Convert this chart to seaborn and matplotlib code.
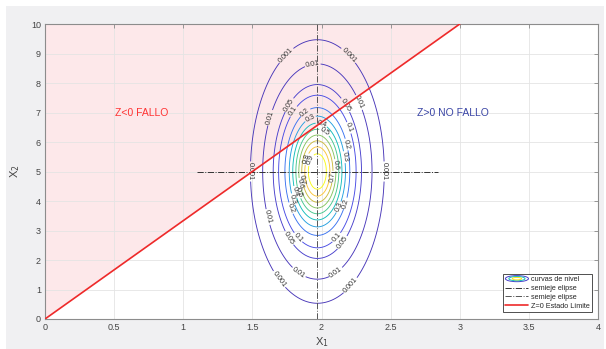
import numpy as np
import pandas as pd
import seaborn as sns
import matplotlib.pyplot as plt
from matplotlib.colors import LinearSegmentedColormap
from matplotlib.patches import Rectangle, Ellipse
from matplotlib.legend_handler import HandlerBase

# data
mean = [1.97, 5.0]           # centre of the ellipse (X1, X2)
sigma = [0.13, 1.2]          # spread of X1 and X2
levels = [0.001, 0.01, 0.05, 0.1, 0.2, 0.3, 0.4, 0.5, 0.6, 0.7, 0.8, 0.9]
limit_x = [0, 3]             # Z=0 estado limite
limit_y = [0, 10]
semi_h_x = [1.10, 2.84]      # horizontal semieje
semi_h_y = [5.0, 5.0]
semi_v_x = [1.97, 1.97]      # vertical semieje
semi_v_y = [0.0, 10.0]
# angles (deg) round each ellipse where the level labels sit
label_angles = [[118, 62, 180, 0, 235, 300],
                [95, 40, 150, 205, 250, 290],
                [130, 50, 230, 305],
                [128, 35, 240, 300],
                [112, 25, 215, 330],
                [105, 15, 210, 320],
                [80, 205],
                [70, 210],
                [10, 200],
                [350, 195],
                [150],
                [140]]

sns.set_style("white")
plt.rcParams['font.family'] = ['Liberation Sans', 'DejaVu Sans']

# parula-like colormap
parula = LinearSegmentedColormap.from_list("parula", [
    (0.00, (0.2822, 0.2104, 0.7203)),
    (0.15, (0.2810, 0.3228, 0.9571)),
    (0.30, (0.1540, 0.5902, 0.9218)),
    (0.45, (0.0704, 0.7457, 0.7258)),
    (0.60, (0.3500, 0.7950, 0.4900)),
    (0.75, (0.7380, 0.7350, 0.2400)),
    (0.87, (0.9871, 0.7348, 0.2438)),
    (1.00, (0.9769, 0.9839, 0.0805)),
])

fig = plt.figure(figsize=(6.06, 3.49), dpi=100, facecolor='white')
fig.patches.append(Rectangle((6 / 606, 0), 598 / 606, 343 / 349, transform=fig.transFigure,
                             facecolor='#f0f0f2', edgecolor='none', zorder=-10))
ax = fig.add_axes([45 / 606, 30 / 349, 553 / 606, 295 / 349])
ax.set_facecolor('white')

# failure region above the limit line
ax.fill_between(limit_x, limit_y, 10, color='#fde8ea', zorder=0, lw=0)

# density of the bivariate normal on a grid
gx = np.linspace(0, 4, 600)
gy = np.linspace(0, 10, 800)
X, Y = np.meshgrid(gx, gy)
peak = 1 / (2 * np.pi * sigma[0] * sigma[1])
Z = peak * np.exp(-0.5 * (((X - mean[0]) / sigma[0]) ** 2 + ((Y - mean[1]) / sigma[1]) ** 2))

cs = ax.contour(X, Y, Z, levels=levels, cmap=parula, linewidths=0.65, zorder=3)

# label spots on each ellipse
spots = []
for lev, angs in zip(levels, label_angles):
    r = np.sqrt(2 * np.log(peak / lev))
    for a in angs:
        t = np.radians(a)
        spots.append((mean[0] + r * sigma[0] * np.cos(t), mean[1] + r * sigma[1] * np.sin(t)))
labs = ax.clabel(cs, fmt='%g', fontsize=5.2, inline=True, inline_spacing=1, manual=spots, colors='#333333')

sns.lineplot(x=semi_h_x, y=semi_h_y, ax=ax, color='#333333', lw=0.7, ls='-.', label='semieje elipse',
             zorder=4, estimator=None, sort=False)
sns.lineplot(x=semi_v_x, y=semi_v_y, ax=ax, color='#555555', lw=0.7, ls='-.', label='semieje elipse',
             zorder=4, estimator=None, sort=False)
sns.lineplot(x=limit_x, y=limit_y, ax=ax, color='#ee2a2a', lw=1.2, label='Z=0 Estado Límite', zorder=5,
             estimator=None, sort=False)

ax.text(0.7, 7, 'Z<0 FALLO', color='#ff3333', fontsize=7.5, ha='center', va='center')
ax.text(2.95, 7, 'Z>0 NO FALLO', color='#3a45a5', fontsize=7.5, ha='center', va='center')

ax.set_xlim(0, 4)
ax.set_ylim(0, 10)
ax.set_xticks(np.arange(0, 4.01, 0.5))
ax.set_xticklabels(['0', '0.5', '1', '1.5', '2', '2.5', '3', '3.5', '4'])
ax.set_yticks(range(0, 11))
ax.grid(True, color='#e4e4e4', lw=0.6, zorder=1)
ax.set_axisbelow(True)
ax.tick_params(direction='in', length=3, width=0.6, colors='#888888', labelcolor='#444444',
               labelsize=6.5, top=True, right=True, pad=3)
for s in ax.spines.values():
    s.set_color('#8c8c8c')
    s.set_linewidth(0.8)
ax.set_xlabel('X$_1$', fontsize=8, color='#444444', labelpad=2)
ax.set_ylabel('X$_2$', fontsize=8, color='#444444', labelpad=6)


class ContourIcon(HandlerBase):
    def create_artists(self, legend, orig, xd, yd, w, h, fontsize, trans):
        arts = []
        for i, f in enumerate([1.0, 0.7, 0.4]):
            e = Ellipse((xd + w / 2, yd + h / 2), w * f, h * f * 1.2, fill=False,
                        edgecolor=parula([0.05, 0.45, 0.95][i]), lw=0.7, transform=trans)
            arts.append(e)
        return arts


handles, labels = ax.get_legend_handles_labels()
icon = Rectangle((0, 0), 1, 1)
leg = ax.legend([icon] + handles, ['curvas de nivel'] + labels, handler_map={icon: ContourIcon()},
                loc='lower right', bbox_to_anchor=(0.9886, 0.024), fontsize=5.2, frameon=True, fancybox=False,
                framealpha=1, edgecolor='#333333', borderpad=0.3, labelspacing=0.25, handlelength=3.2,
                handletextpad=0.3, borderaxespad=0)
leg.get_frame().set_linewidth(0.6)

fig.savefig('out.png', dpi=100, facecolor=fig.get_facecolor())
